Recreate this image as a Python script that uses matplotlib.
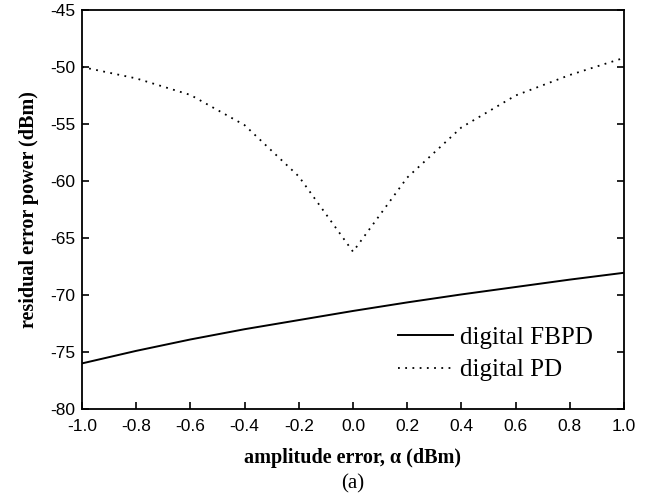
import matplotlib
matplotlib.use("Agg")
import matplotlib.pyplot as plt

# amplitude error (dBm)
alpha = [-1.0, -0.8, -0.6, -0.4, -0.2, 0.0, 0.2, 0.4, 0.6, 0.8, 1.0]

# residual error power (dBm)
fbpd = [-76.0, -74.9, -73.9, -73.0, -72.2, -71.4, -70.65, -69.95, -69.3, -68.65, -68.05]
pd_ = [-50.0, -51.0, -52.45, -55.1, -59.6, -66.2, -59.7, -55.3, -52.5, -50.7, -49.2]

xticks = [-1.0, -0.8, -0.6, -0.4, -0.2, 0.0, 0.2, 0.4, 0.6, 0.8, 1.0]
yticks = [-80, -75, -70, -65, -60, -55, -50, -45]

fig = plt.figure(figsize=(6.53, 4.99), dpi=100)
ax = fig.add_axes([82 / 653, 90 / 499, 542 / 653, 399 / 499])

ax.plot(alpha, fbpd, color="black", lw=1.4, label="digital FBPD")
ax.plot(alpha, pd_, color="black", lw=1.3, linestyle=(0, (1, 3)), label="digital PD")

ax.set_xlim(-1.0, 1.0)
ax.set_ylim(-80, -45)
ax.set_xticks(xticks)
ax.set_xticklabels([f"{v:.1f}" for v in xticks])
ax.set_yticks(yticks)
ax.set_yticklabels([str(v) for v in yticks])

ax.tick_params(direction="in", length=5, width=1.2, top=False, right=True,
               labelsize=12.5)
ax.tick_params(axis="x", pad=7)
ax.tick_params(axis="y", pad=5)
for lab in ax.get_xticklabels() + ax.get_yticklabels():
    lab.set_family("Liberation Sans")
for sp in ax.spines.values():
    sp.set_linewidth(1.3)

ax.set_xlabel("amplitude error, α (dBm)", family="Liberation Serif",
              fontweight="bold", fontsize=14.5, labelpad=10)
ax.set_ylabel("residual error power (dBm)", family="Liberation Serif",
              fontweight="bold", fontsize=14.5, labelpad=8)

leg = ax.legend(loc="upper left", bbox_to_anchor=(0.583, 0.207), frameon=False,
                prop={"family": "Liberation Serif", "size": 18},
                handlelength=2.2, handletextpad=0.3, labelspacing=0.4,
                borderpad=0, borderaxespad=0)

fig.text(353 / 653, 1 - 484 / 499, "(a)", family="Liberation Serif",
         fontsize=15, ha="center", va="center")

fig.savefig("out.png", dpi=100)
